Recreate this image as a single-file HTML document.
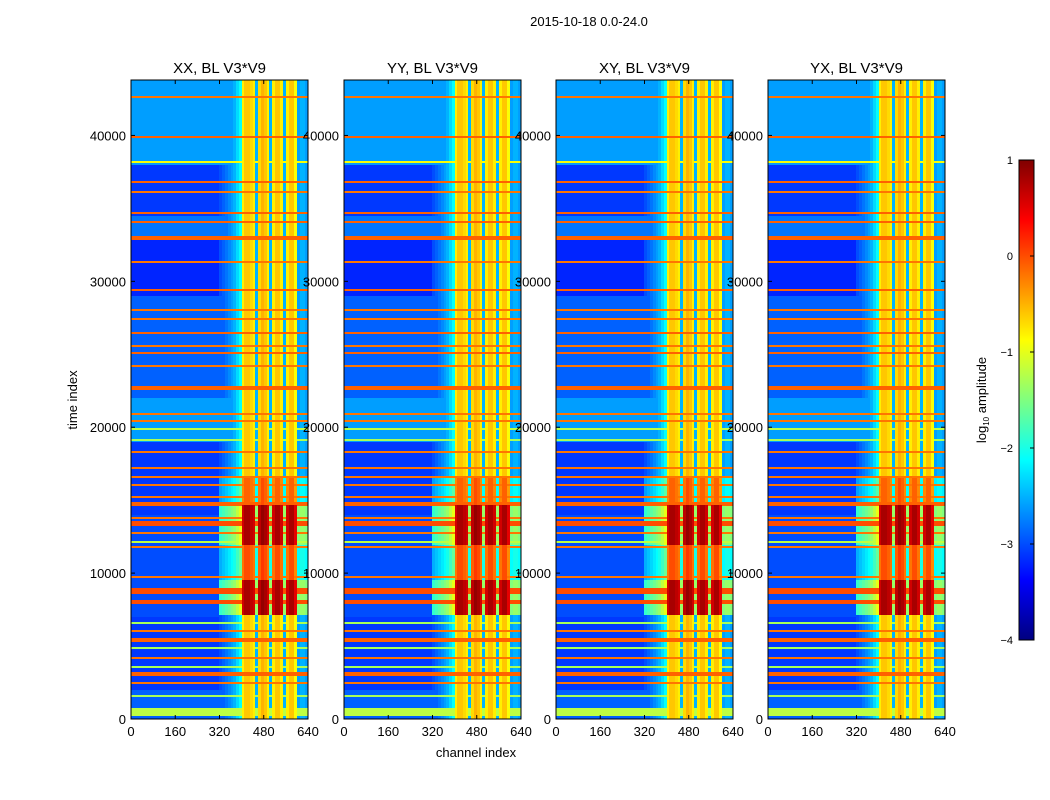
<!DOCTYPE html>
<html><head><meta charset="utf-8">
<style>
body{margin:0;background:#fff;}
#wrap{position:relative;width:1050px;height:800px;overflow:hidden;background:#fff;font-family:"Liberation Sans",sans-serif;}
canvas{position:absolute;image-rendering:pixelated;}
svg{position:absolute;left:0;top:0;}
text{font-family:"Liberation Sans",sans-serif;fill:#000;}
</style></head>
<body>
<div id="wrap">
<svg id="ov" width="1050" height="800"></svg>
</div>
<script>
// ---- data (log10 amplitude) ----
const panelTitles = ["XX, BL V3*V9","YY, BL V3*V9","XY, BL V3*V9","YX, BL V3*V9"];
const xTicks = [0,160,320,480,640];
const yTicks = [0,10000,20000,30000,40000];
const cbTicks = [1,0,-1,-2,-3,-4];
// background level per time segment [start, end, value]
const bgStart = [0,2000,7000,14000,19000,22000,29000,33000,34500,38000];
const bgEnd   = [2000,7000,14000,19000,22000,29000,33000,34500,38000,44000];
const bgVal   = [-2.9,-3.1,-3.0,-3.1,-2.6,-2.9,-3.2,-2.8,-3.1,-2.6];
// full-width stripes [time center, half-width, value]
const stripeT = [42630,39890,38180,36800,36120,34680,34060,32970,31320,29400,28030,27420,26460,25570,25100,24200,22690,
  20900,20420,19880,19120,18300,17200,16590,16040,15220,14740,13780,13430,12750,12130,11790,9730,8770,8020,6580,6030,5410,4870,4180,3560,3080,2470,1580,500];
const stripeW = [60,60,60,60,50,50,50,120,50,80,50,50,50,50,50,50,150,
  50,50,50,60,50,50,50,50,50,120,50,170,50,50,50,50,220,170,50,50,120,50,50,50,120,50,80,280];
const stripeV = [-0.2,-0.1,-0.9,-0.1,-0.2,-0.1,-0.1,-0.1,-0.2,-0.1,-0.2,-0.2,-0.1,-0.2,-0.1,-0.2,-0.1,
  -0.2,-0.2,-1.2,-1.3,-0.2,-0.2,-0.2,-0.2,-0.2,-0.1,-0.2,0.0,-0.2,-1.2,-0.2,-0.2,0.0,0.0,-1.3,-0.2,-0.1,-1.3,-0.2,-1.3,-0.1,-0.2,-1.3,-1.2];
// channel profile, 64 bins of 10 channels (null = background)
const colLevel = [null,null,null,null,null,null,null,null,null,null,null,null,null,null,null,null,
  null,null,null,null,null,null,null,null,null,null,null,null,null,null,null,null,
  -3.0,-2.9,-2.8,-2.7,-2.6,-2.5,-2.3,-2.1,
  -0.8,-0.6,-0.6,-0.7,-0.8,-2.5,-0.7,-0.5,-0.6,-0.8,-2.5,-0.8,-0.6,-0.6,-0.8,-2.5,-0.8,-0.6,-0.6,-0.9,
  -2.6,-2.5,-2.5,-2.6];
// hot time segments: boost in bright band
const hotStart = [7100,9500,11900,14700];
const hotEnd   = [9500,11900,14700,16500];
const hotBoost = [1.4,0.6,1.4,0.5];
const panelHot = [1.0,1.0,1.0,1.0];

const TMAX=43800, CMAX=640;
const panelX=[131,344,556,768], PW=177, PT=80, PB=719, PH=PB-PT;
function yOf(t){return PB-t/TMAX*PH;}
function xOf(p,c){return panelX[p]+c/CMAX*PW;}
function jet(v){const t=Math.max(0,Math.min(1,(v+4)/5));
 const f=x=>Math.round(255*Math.max(0,Math.min(1,x)));
 return [f(1.5-Math.abs(4*t-3)),f(1.5-Math.abs(4*t-2)),f(1.5-Math.abs(4*t-1))];}
function cellVal(p,t,c){
 let v=-3.0;
 for(let i=0;i<bgStart.length;i++) if(t>=bgStart[i]&&t<bgEnd[i]) v=bgVal[i];
 const cb=Math.min(colLevel.length-1,Math.floor(c/10));
 const cl=colLevel[cb];
 let boost=0;
 for(let i=0;i<hotStart.length;i++) if(t>=hotStart[i]&&t<hotEnd[i]) boost=hotBoost[i]*panelHot[p];
 if(cl!==null){ v=Math.max(v,cl+(cl>-1.5?boost:boost*0.8)); }
 for(let i=0;i<stripeT.length;i++) if(Math.abs(t-stripeT[i])<=stripeW[i]) v=Math.max(v,stripeV[i]);
 return v;}
const wrap=document.getElementById('wrap');
for(let p=0;p<4;p++){
 const cv=document.createElement('canvas');
 
 
 cv.width=PW;cv.height=PH;
 cv.style.left=panelX[p]+'px';cv.style.top=PT+'px';
 const ctx=cv.getContext('2d');const img=ctx.createImageData(PW,PH);
 for(let y=0;y<PH;y++){const tt=(PH-y-0.5)/PH*TMAX;
  for(let x=0;x<PW;x++){const c=(x+0.5)/PW*CMAX;const col=jet(cellVal(p,tt,c));
   const k=(y*PW+x)*4;img.data[k]=col[0];img.data[k+1]=col[1];img.data[k+2]=col[2];img.data[k+3]=255;}}
 ctx.putImageData(img,0,0);
 wrap.insertBefore(cv,wrap.firstChild);
}
// colorbar
const cb=document.createElement('canvas');


cb.width=15;cb.height=480;cb.style.left='1019px';cb.style.top='160px';
{const ctx=cb.getContext('2d');for(let y=0;y<480;y++){const c=jet(1-(y+0.5)/480*5);ctx.fillStyle=`rgb(${c})`;ctx.fillRect(0,y,15,1);}}
wrap.insertBefore(cb,wrap.firstChild);

const NS='http://www.w3.org/2000/svg';const svg=document.getElementById('ov');
function el(tag,attrs,txt){const e=document.createElementNS(NS,tag);for(const k in attrs)e.setAttribute(k,attrs[k]);if(txt!==undefined)e.textContent=txt;svg.appendChild(e);return e;}
let e=el('text',{x:589,y:26,'text-anchor':'middle','font-size':13},'2015-10-18 0.0-24.0');


for(let p=0;p<4;p++){
 const x0=panelX[p];
 e=el('rect',{x:x0,y:PT,width:PW,height:PH,fill:'none',stroke:'#000','stroke-width':1});
 
 
 e=el('text',{x:x0+PW/2,y:73,'text-anchor':'middle','font-size':15},panelTitles[p]);
 
 
 xTicks.forEach(v=>{const x=xOf(p,v);
  el('line',{x1:x,x2:x,y1:PB,y2:PB-4,stroke:'#000'});el('line',{x1:x,x2:x,y1:PT,y2:PT+4,stroke:'#000'});
  e=el('text',{x:x,y:PB+17,'text-anchor':'middle','font-size':13},String(v));
  
  });
 yTicks.forEach(v=>{const y=yOf(v);
  el('line',{x1:x0,x2:x0+4,y1:y,y2:y,stroke:'#000'});el('line',{x1:x0+PW,x2:x0+PW-4,y1:y,y2:y,stroke:'#000'});
  e=el('text',{x:x0-5,y:y+5,'text-anchor':'end','font-size':13},String(v));
  
  });
}
e=el('text',{x:476,y:757,'text-anchor':'middle','font-size':13},'channel index');


e=el('text',{x:0,y:0,'text-anchor':'middle','font-size':13,transform:'translate(77,400) rotate(-90)'},'time index');


e=el('rect',{x:1019,y:160,width:15,height:480,fill:'none',stroke:'#000'});


cbTicks.forEach(v=>{const y=160+(1-v)/5*480;
 el('line',{x1:1030,x2:1034,y1:y,y2:y,stroke:'#000'});
 e=el('text',{x:1013,y:y+4,'text-anchor':'end','font-size':11},v<0?'\u2212'+(-v):String(v));
 
 });
e=el('text',{x:0,y:0,'text-anchor':'middle','font-size':13,transform:'translate(986,400) rotate(-90)'});


e.appendChild(document.createTextNode('log'));
const sub=document.createElementNS(NS,'tspan');sub.setAttribute('font-size','8');sub.setAttribute('dy','3');sub.textContent='10';e.appendChild(sub);
const rest=document.createElementNS(NS,'tspan');rest.setAttribute('dy','-3');rest.textContent=' amplitude';e.appendChild(rest);
</script>
</body></html>
